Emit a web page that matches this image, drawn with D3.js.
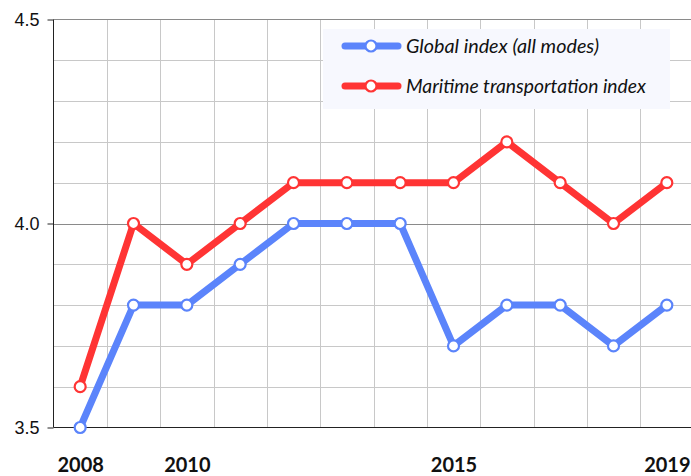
<!DOCTYPE html>
<html>
<head>
<meta charset="utf-8">
<script src="https://cdn.jsdelivr.net/npm/d3@7"></script>
<style>
  html, body { margin: 0; padding: 0; background: #fff; }
  svg { display: block; }
</style>
</head>
<body>
<svg id="chart" width="691" height="476"></svg>
<script>
// Index values by year
const years = [2008, 2009, 2010, 2011, 2012, 2013, 2014, 2015, 2016, 2017, 2018, 2019];
const globalIndex = [3.5, 3.8, 3.8, 3.9, 4.0, 4.0, 4.0, 3.7, 3.8, 3.8, 3.7, 3.8];
const maritimeIndex = [3.6, 4.0, 3.9, 4.0, 4.1, 4.1, 4.1, 4.1, 4.2, 4.1, 4.0, 4.1];
const seriesNames = ["Global index (all modes)", "Maritime transportation index"];
const seriesColors = ["#5b84fb", "#ff3434"];
const yTickLabels = [3.5, 4.0, 4.5];
const xTickLabels = [2008, 2010, 2015, 2019];

const svg = d3.select("#chart");
const W = 691, H = 476;
const plotLeft = 53.5, plotTop = 19.5, plotBottom = 427.5, plotRight = 693.5;

const x = d3.scaleLinear().domain([2007.5, 2019.5]).range([plotLeft, plotRight]);
const y = d3.scaleLinear().domain([3.5, 4.5]).range([plotBottom, plotTop]);

// grid
const grid = svg.append("g");
d3.range(1, 12).forEach(k => {
  const xv = Math.round(x(2007.5 + k)) + 0.5;
  grid.append("line").attr("x1", xv).attr("x2", xv).attr("y1", plotTop).attr("y2", plotBottom)
    .attr("stroke", "#c8c8c8").attr("stroke-width", 1);
});
d3.range(1, 10).forEach(k => {
  const v = 3.5 + k * 0.1;
  const yv = Math.round(y(v)) + 0.5;
  const major = Math.abs(v - 4.0) < 1e-9;
  grid.append("line").attr("x1", plotLeft).attr("x2", W).attr("y1", yv).attr("y2", yv)
    .attr("stroke", major ? "#8a8a8a" : "#c8c8c8").attr("stroke-width", 1);
});
// top border line
grid.append("line").attr("x1", plotLeft).attr("x2", W).attr("y1", plotTop).attr("y2", plotTop)
  .attr("stroke", "#8a8a8a").attr("stroke-width", 1);

// y axis
const yAxis = d3.axisLeft(y).tickValues(yTickLabels).tickFormat(d3.format(".1f"))
  .tickSize(6).tickPadding(8);
const gy = svg.append("g").attr("transform", `translate(${plotLeft},0)`).call(yAxis);
gy.select(".domain").attr("stroke", "#222").attr("d", `M0,${plotTop}V${plotBottom}`);
gy.selectAll(".tick line").attr("stroke", "#222");
gy.selectAll(".tick text").attr("font-family", "Liberation Sans, Arial, sans-serif")
  .attr("font-size", 18).attr("fill", "#111");

// x axis
const xAxis = d3.axisBottom(x).tickValues(xTickLabels).tickFormat(d3.format("d"))
  .tickSize(0).tickPadding(30);
const gx = svg.append("g").attr("transform", `translate(0,${plotBottom})`).call(xAxis);
gx.select(".domain").attr("stroke", "#222").attr("d", `M${plotLeft},0H${W}`);
gx.selectAll(".tick text").attr("font-family", "Lato, sans-serif").attr("font-weight", "bold")
  .attr("font-size", 20).attr("fill", "#111");

// series
const series = [globalIndex, maritimeIndex];
const line = d3.line().x((d, i) => x(years[i])).y(d => y(d));
series.forEach((vals, s) => {
  const g = svg.append("g");
  g.append("path").datum(vals).attr("d", line).attr("fill", "none")
    .attr("stroke", seriesColors[s]).attr("stroke-width", 7).attr("stroke-linejoin", "round");
  g.selectAll("circle").data(vals).join("circle")
    .attr("cx", (d, i) => x(years[i])).attr("cy", d => y(d)).attr("r", 5.5)
    .attr("fill", "#fff").attr("stroke", seriesColors[s]).attr("stroke-width", 2.2);
});

// legend
const lg = svg.append("g");
lg.append("rect").attr("x", 323).attr("y", 29).attr("width", 347).attr("height", 80)
  .attr("fill", "#f7f8fe");
const legendWidths = [193, 240];
seriesNames.forEach((name, s) => {
  const cy = 46 + s * 40;
  lg.append("line").attr("x1", 345).attr("x2", 398).attr("y1", cy).attr("y2", cy)
    .attr("stroke", seriesColors[s]).attr("stroke-width", 7).attr("stroke-linecap", "round");
  lg.append("circle").attr("cx", 371).attr("cy", cy).attr("r", 5.5)
    .attr("fill", "#fff").attr("stroke", seriesColors[s]).attr("stroke-width", 2.2);
  lg.append("text").attr("x", 406).attr("y", cy + 7)
    .attr("font-family", "Lato, sans-serif").attr("font-style", "italic")
    .attr("font-size", 20).attr("fill", "#111")
    .attr("textLength", legendWidths[s]).attr("lengthAdjust", "spacingAndGlyphs")
    .text(name);
});
</script>
</body>
</html>
